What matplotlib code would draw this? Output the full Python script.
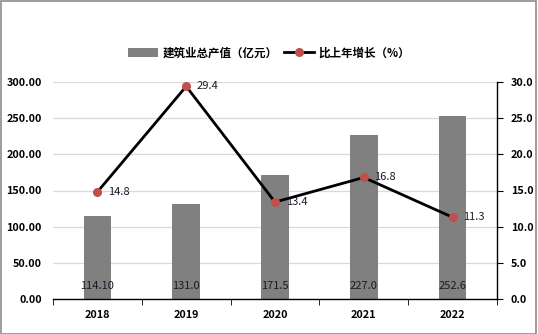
import matplotlib
matplotlib.use("Agg")
import matplotlib.pyplot as plt
from matplotlib.patches import Rectangle

plt.rcParams['font.family'] = ['Noto Sans CJK SC', 'DejaVu Sans']

years = ['2018', '2019', '2020', '2021', '2022']
output_values = [114.10, 131.0, 171.5, 227.0, 252.6]
output_labels = ['114.10', '131.0', '171.5', '227.0', '252.6']
growth = [14.8, 29.4, 13.4, 16.8, 11.3]
left_ticks = [0, 50, 100, 150, 200, 250, 300]
right_ticks = [0, 5, 10, 15, 20, 25, 30]

fig = plt.figure(figsize=(5.38, 3.34), dpi=100)
ax = fig.add_axes([53/538, 1-299/334, (497-53)/538, (299-82)/334])
ax2 = ax.twinx()

x = list(range(len(years)))
ax.bar(x, output_values, width=0.31, color='#808080', zorder=2, label='建筑业总产值（亿元）')
for xi, lab in zip(x, output_labels):
    ax.text(xi, 18, lab, ha='center', va='center', fontsize=8, color='#1a1a2a', zorder=5)

ax.set_ylim(0, 300)
ax.set_xlim(-0.5, len(years) - 0.5)
ax.set_yticks(left_ticks)
ax.set_yticklabels([f'{v:.2f}' for v in left_ticks], fontsize=7.8, fontweight='bold')
ax.tick_params(axis='y', length=0, pad=8)
ax.grid(axis='y', color='#d9d9d9', linewidth=0.9, zorder=0)
ax.set_axisbelow(True)
ax.set_xticks(x)
ax.set_xticklabels(years, fontsize=7.8, fontweight='bold')
ax.set_xticks([i + 0.5 for i in range(-1, len(years))], minor=True)
ax.tick_params(axis='x', which='major', length=0, pad=8)
ax.tick_params(axis='x', which='minor', length=4, direction='out', color='black')
for s in ['top', 'left', 'right']:
    ax.spines[s].set_visible(False)
ax.spines['bottom'].set_color('black')
ax.spines['bottom'].set_linewidth(1.0)

ln, = ax2.plot(x, growth, color='black', linewidth=2, marker='o', markersize=5.5,
               markerfacecolor='#C0504D', markeredgecolor='#C0504D', zorder=4,
               label='比上年增长（%）')
for xi, g in zip(x, growth):
    ax2.text(xi + 0.12, g, f'{g:.1f}', ha='left', va='center', fontsize=8, color='#1a1a2a')
ax2.set_ylim(0, 30)
ax2.set_yticks(right_ticks)
ax2.set_yticklabels([f'{v:.1f}' for v in right_ticks], fontsize=7.8, fontweight='bold')
ax2.tick_params(axis='y', length=4, direction='out', pad=6)
for s in ['top', 'left', 'bottom']:
    ax2.spines[s].set_visible(False)
ax2.spines['right'].set_color('black')
ax2.spines['right'].set_linewidth(1.0)

h1, l1 = ax.get_legend_handles_labels()
h2, l2 = ax2.get_legend_handles_labels()
fig.legend(h1 + h2, l1 + l2, loc='center', bbox_to_anchor=(0.5, 1 - 53/334), ncol=2,
           frameon=False, prop={'size': 8.3, 'weight': 'bold'}, handlelength=2.6,
           columnspacing=0.6, handletextpad=0.4)

fig.patches.append(Rectangle((0.5/538, 0.5/334), 1 - 3/538, 1 - 1.5/334, transform=fig.transFigure,
                             fill=False, edgecolor='#8c8c8c', linewidth=1.2))

fig.savefig('out.png', dpi=100)
